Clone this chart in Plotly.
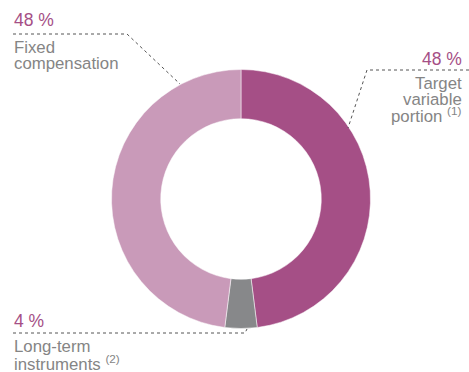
import plotly.graph_objects as go

labels = ["Target variable portion", "Long-term instruments", "Fixed compensation"]
values = [48, 4, 48]
colors = ["#A54F86", "#87888A", "#C99AB9"]
pct_labels = ["48 %", "4 %", "48 %"]

W, H = 469, 372

def px(x):
    return x / W

def py(y):
    return 1 - y / H

fig = go.Figure()
cx, cy, r = 241, 199, 129.5
fig.add_trace(go.Pie(
    labels=labels, values=values, sort=False, direction="clockwise", rotation=0,
    hole=0.62, textinfo="none", hoverinfo="skip",
    marker=dict(colors=colors, line=dict(color="white", width=0.5)),
    domain=dict(x=[px(cx - r), px(cx + r)], y=[py(cy + r), py(cy - r)]),
    showlegend=False,
))

FONT = "Liberation Sans"
PCT_COLOR = "#A54F86"
TXT_COLOR = "#858585"
LINE_COLOR = "#555555"

anns = [
    # (text, x, y, xanchor, size, color)
    (pct_labels[2], 13, 20, "left", 17.5, PCT_COLOR),
    ("Fixed", 13, 47.5, "left", 16.8, TXT_COLOR),
    ("compensation", 13, 63.5, "left", 16.8, TXT_COLOR),
    (pct_labels[0], 463, 59, "right", 17.5, PCT_COLOR),
    ("Target", 463, 83, "right", 16.8, TXT_COLOR),
    ("variable", 463, 99, "right", 16.8, TXT_COLOR),
    ("portion <sup>(1)</sup>", 462, 115, "right", 16.8, TXT_COLOR),
    (pct_labels[1], 13, 320.5, "left", 17.5, PCT_COLOR),
    ("Long-term", 13, 346, "left", 16.8, TXT_COLOR),
    ("instruments <sup>(2)</sup>", 13, 362.5, "left", 16.8, TXT_COLOR),
]
for t, x, y, xa, s, c in anns:
    fig.add_annotation(text=t, x=px(x), y=py(y), xref="paper", yref="paper",
                       xanchor=xa, yanchor="middle", showarrow=False,
                       font=dict(family=FONT, size=s, color=c),
                       borderpad=0)

leaders = [
    [(13, 34), (127, 34), (180, 84)],
    [(469, 70), (367, 70), (348, 128)],
    [(13, 333), (245, 333), (247, 329)],
]
for pts in leaders:
    path = "M " + " L ".join(f"{px(x)},{py(y)}" for x, y in pts)
    fig.add_shape(type="path", path=path, xref="paper", yref="paper",
                  line=dict(color=LINE_COLOR, width=1, dash="dot"))

fig.update_layout(width=W, height=H, margin=dict(l=0, r=0, t=0, b=0),
                  paper_bgcolor="white", plot_bgcolor="white")
fig.write_html("out.html")
